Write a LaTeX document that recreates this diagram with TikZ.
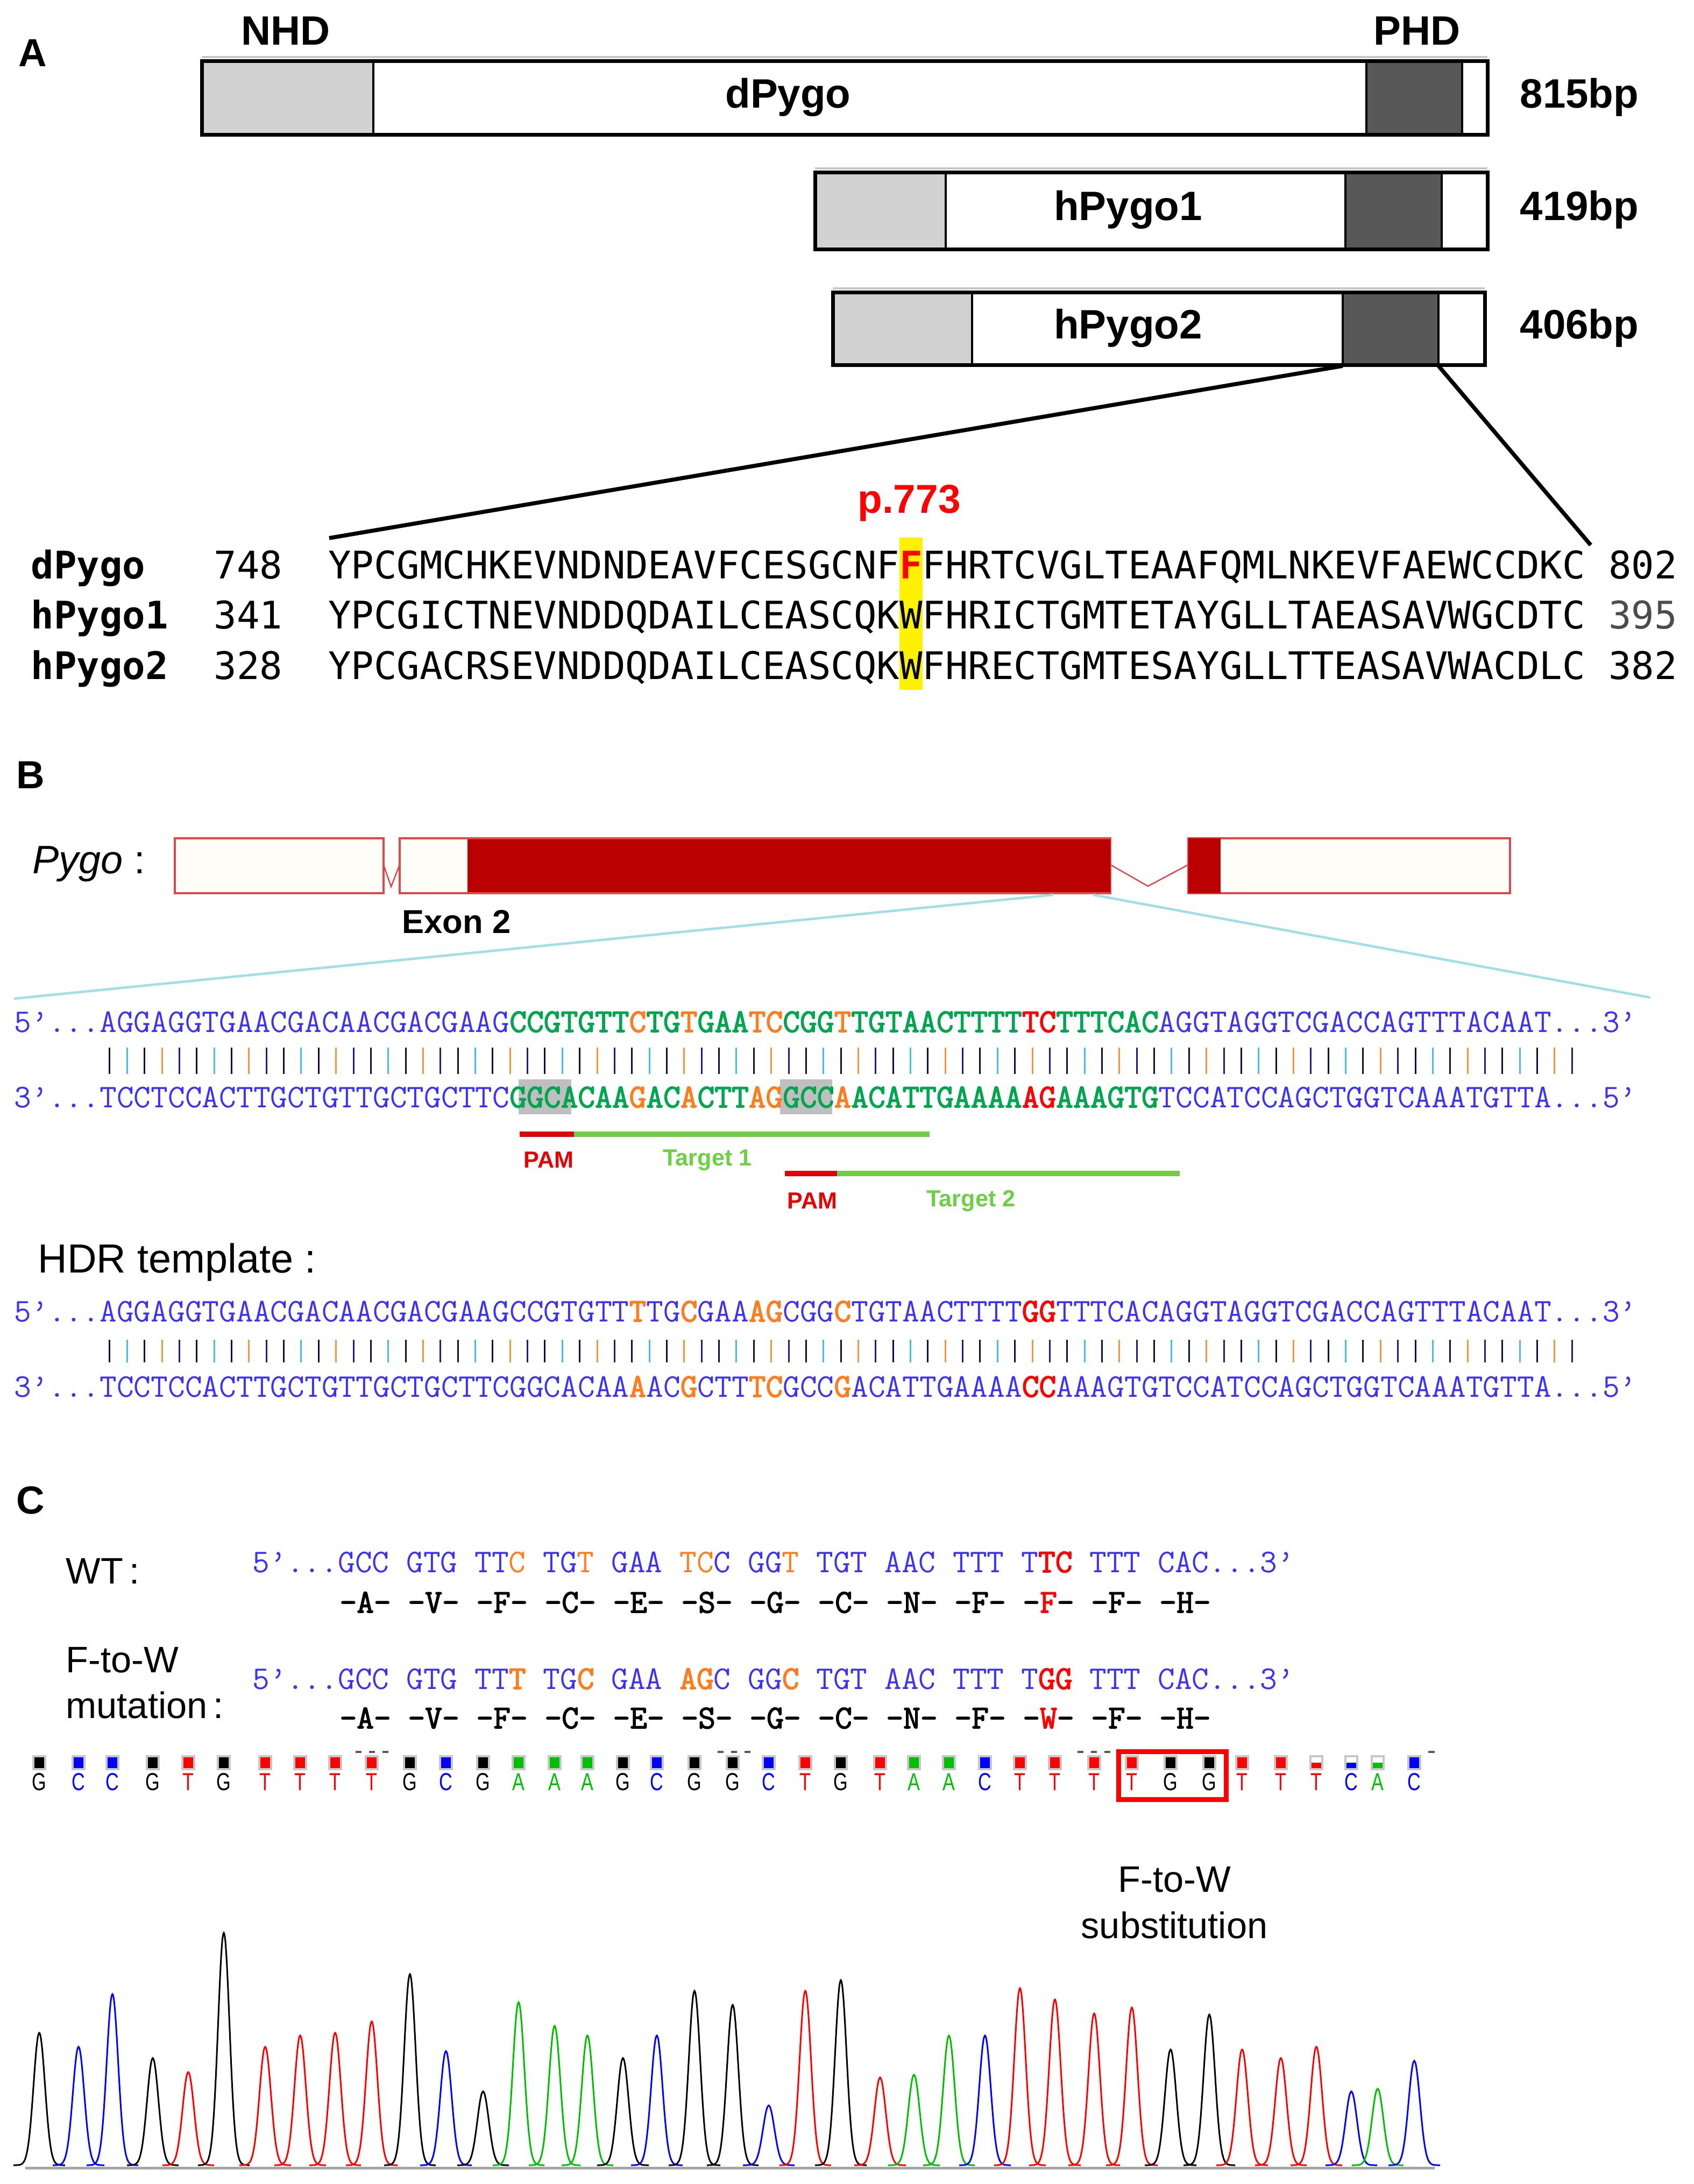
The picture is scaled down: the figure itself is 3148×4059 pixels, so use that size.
\documentclass[tikz,border=0pt]{standalone}
\usepackage{fontspec}
\usepackage{graphicx}
\setmainfont{Liberation Sans}
\newfontfamily\monoA{DejaVu Sans Mono}
\newfontfamily\cour{Latin Modern Mono}[AutoFakeBold=2.5]
\definecolor{lgray}{RGB}{210,210,210}
\definecolor{dgray}{RGB}{88,88,88}
\definecolor{exred}{RGB}{187,0,0}
\definecolor{exline}{RGB}{222,72,72}
\definecolor{ivory}{RGB}{255,253,247}
\definecolor{cyanl}{RGB}{160,222,232}
\definecolor{sblue}{RGB}{60,50,245}
\definecolor{sgreen}{RGB}{0,165,80}
\definecolor{sorange}{RGB}{255,125,30}
\definecolor{sred}{RGB}{255,0,0}
\definecolor{pamred}{RGB}{228,0,0}
\definecolor{tgreen}{RGB}{108,207,68}
\definecolor{trG}{RGB}{0,0,0}
\definecolor{trC}{RGB}{0,0,255}
\definecolor{trT}{RGB}{255,0,0}
\definecolor{trA}{RGB}{0,190,0}
\definecolor{barA}{RGB}{15,15,60}
\definecolor{barB}{RGB}{240,150,60}
\definecolor{barC}{RGB}{70,190,225}
\definecolor{barD}{RGB}{30,30,130}
\newcommand\nuB[1]{\textcolor{sblue}{#1}}
\newcommand\nuG[1]{\textcolor{sgreen}{\bfseries #1}}
\newcommand\nuO[1]{\textcolor{sorange}{\bfseries #1}}
\newcommand\nuOn[1]{\textcolor{sorange}{#1}}
\newcommand\nuR[1]{\textcolor{sred}{\bfseries #1}}
\newcommand\pygobar[7]{%
  \fill[white] (#1,#3) rectangle (#2,#4);
  \fill[lgray] (#1,#3) rectangle (#5,#4);
  \fill[dgray] (#6,#3) rectangle (#7,#4);
  \draw[line width=0.4mm] (#5,#3) -- (#5,#4) (#6,#3) -- (#6,#4) (#7,#3) -- (#7,#4);
  \draw[gray!45, line width=0.4mm] (#1,#3-7) -- (#2,#3-7);
  \draw[line width=0.7mm] (#1,#3) rectangle (#2,#4);
}
\newcommand\pairbars[2]{%
  \foreach \i in {5,...,89}{%
    \pgfmathtruncatemacro\m{mod(\i*7,5)}%
    \ifcase\m \def\bc{barA}\or \def\bc{barB}\or \def\bc{barC}\or \def\bc{barD}\or \def\bc{barA}\fi
    \draw[\bc, line width=0.3mm] (26+\i*32.36+16.18,#1) -- (26+\i*32.36+16.18,#2);
  }%
}
\tikzset{
  lab/.style={font=\fontsize{20.7pt}{24pt}\selectfont\bfseries, inner sep=0pt},
  barlab/.style={font=\fontsize{21.7pt}{26pt}\selectfont\bfseries, inner sep=0pt},
  alnA/.style={font=\monoA\fontsize{20.08pt}{24pt}\selectfont, inner sep=0pt, anchor=base west},
  dna/.style={font=\cour\fontsize{17.54pt}{21pt}\selectfont, inner sep=0pt, anchor=base west},
  dnab/.style={font=\cour\fontsize{17.54pt}{21pt}\selectfont\bfseries, inner sep=0pt, anchor=base west},
  plain/.style={font=\fontsize{19.5pt}{23pt}\selectfont, inner sep=0pt},
  pamlab/.style={font=\fontsize{12.3pt}{14pt}\selectfont\bfseries, inner sep=0pt},
  callab/.style={font=\fontsize{13pt}{15pt}\selectfont, inner sep=0pt},
  gene/.style={draw=exline, line width=0.35mm, fill=ivory},
  zoomline/.style={line width=0.75mm, black},
}
\begin{document}
\begin{tikzpicture}[x=0.1mm,y=-0.1mm]
\useasboundingbox (0,0) rectangle (3148,4059);
\fill[white] (0,0) rectangle (3148,4059);

% ---------------- Panel A ----------------
\node[lab] (labA) at (61,98) {A};
\node[barlab] (nhd) at (531,57) {NHD};
\node[barlab] (phd) at (2634,57) {PHD};
\pygobar{375}{2765}{113}{250}{694}{2540}{2718}
\node[barlab] (tdp) at (1465,181) {dPygo};
\node[barlab, anchor=west] (bp1) at (2825,181) {815bp};
\pygobar{1515}{2765}{320}{463}{1758}{2501}{2680}
\node[barlab] (th1) at (2097,390) {hPygo1};
\node[barlab, anchor=west] (bp2) at (2825,390) {419bp};
\pygobar{1548}{2760}{543}{678}{1807}{2496}{2674}
\node[barlab] (th2) at (2097,610) {hPygo2};
\node[barlab, anchor=west] (bp3) at (2825,610) {406bp};

\coordinate (p2l) at (2496,680);
\coordinate (p2r) at (2674,680);
\coordinate (al) at (612,1000);
\coordinate (ar) at (2957,1013);
\draw[zoomline] (p2l) -- (al);
\draw[zoomline] (p2r) -- (ar);

\fill[yellow] (1672,999) rectangle (1714.5,1282);
\node[font=\fontsize{21.3pt}{25pt}\selectfont\bfseries, text=red, inner sep=0pt, anchor=base] (p773) at (1690,953) {p.773};

\node[alnA] (nm1) at (57,1075) {\bfseries dPygo};
\node[alnA] (st1) at (397,1075) {748};
\node[alnA] (sq1) at (609.5,1075) {YPCGMCHKEVNDNDEAVFCESGCNF\textcolor{red}{\bfseries F}FHRTCVGLTEAAFQMLNKEVFAEWCCDKC};
\node[alnA] (en1) at (2989.5,1075) {802};
\node[alnA] (nm2) at (57,1168) {\bfseries hPygo1};
\node[alnA] (st2) at (397,1168) {341};
\node[alnA] (sq2) at (609.5,1168) {YPCGICTNEVNDDQDAILCEASCQKWFHRICTGMTETAYGLLTAEASAVWGCDTC};
\node[alnA, text=black!70] (en2) at (2989.5,1168) {395};
\node[alnA] (nm3) at (57,1262) {\bfseries hPygo2};
\node[alnA] (st3) at (397,1262) {328};
\node[alnA] (sq3) at (609.5,1262) {YPCGACRSEVNDDQDAILCEASCQKWFHRECTGMTESAYGLLTTEASAVWACDLC};
\node[alnA] (en3) at (2989.5,1262) {382};

% ---------------- Panel B ----------------
\node[lab] (labB) at (57,1440) {B};
\node[font=\fontsize{21pt}{25pt}\selectfont, inner sep=0pt, anchor=west] (pygo) at (60,1606) {\itshape Pygo\upshape{} :};
\draw[gene] (325,1558) rectangle (713,1660);
\draw[gene] (743,1558) rectangle (2064,1660);
\fill[exred] (869,1558) rectangle (2064,1660);
\draw[exline, line width=0.45mm] (325,1558) -- (713,1558) (325,1660) -- (713,1660) (743,1558) -- (2064,1558) (743,1660) -- (2064,1660) (2209,1558) -- (2807,1558) (2209,1660) -- (2807,1660);
\draw[gene] (2209,1558) rectangle (2807,1660);
\fill[exred] (2209,1558) rectangle (2269,1660);
\draw[exline, line width=0.25mm] (713,1607) -- (727,1648) -- (743,1607);
\draw[exline, line width=0.25mm] (2064,1607) -- (2134,1647) -- (2209,1607);
\node[font=\fontsize{17.5pt}{21pt}\selectfont\bfseries, inner sep=0pt, anchor=west] (exon) at (747,1713) {Exon 2};

\coordinate (zl) at (1958,1663);
\coordinate (zr) at (2032,1663);
\coordinate (sl) at (26,1856);
\coordinate (sr) at (3068,1854);
\draw[cyanl, line width=0.45mm] (zl) -- (sl);
\draw[cyanl, line width=0.45mm] (zr) -- (sr);

\fill[black!25] (964.4,2006) rectangle (1061.5,2071);
\fill[black!25] (1449.8,2006) rectangle (1546.9,2071);
\node[dna] (btop) at (26,1918) {\nuB{5’...AGGAGGTGAACGACAACGACGAAG}\nuG{CCGTGTT}\nuO{C}\nuG{TG}\nuO{T}\nuG{GAA}\nuO{TC}\nuG{CGG}\nuO{T}\nuG{TGTAACTTTT}\nuR{TC}\nuG{TTTCAC}\nuB{AGGTAGGTCGACCAGTTTACAAT...3’}};
\pairbars{1947}{1996}
\node[dna] (bbot) at (26,2058) {\nuB{3’...TCCTCCACTTGCTGTTGCTGCTTC}\nuG{GGCACAA}\nuO{G}\nuG{AC}\nuO{A}\nuG{CTT}\nuO{AG}\nuG{GCC}\nuO{A}\nuG{ACATTGAAAA}\nuR{AG}\nuG{AAAGTG}\nuB{TCCATCCAGCTGGTCAAATGTTA...5’}};

\draw[pamred, line width=1mm] (966,2108) -- (1067,2108);
\draw[tgreen, line width=1mm] (1067,2108) -- (1728,2108);
\draw[pamred, line width=1mm] (1459,2181) -- (1556,2181);
\draw[tgreen, line width=1mm] (1556,2181) -- (2193,2181);
\node[pamlab, text=pamred] (pam1) at (1020,2156) {PAM};
\node[pamlab, text=tgreen] (tg1) at (1315,2156) {Target 1};
\node[pamlab, text=pamred] (pam2) at (1510,2232) {PAM};
\node[pamlab, text=tgreen] (tg2) at (1805,2232) {Target 2};

\node[font=\fontsize{21.5pt}{25pt}\selectfont, inner sep=0pt, anchor=west] (hdr) at (70,2346) {HDR template :};
\node[dna] (htop) at (26,2456) {\nuB{5’...AGGAGGTGAACGACAACGACGAAGCCGTGTT}\nuO{T}\nuB{TG}\nuO{C}\nuB{GAA}\nuO{AG}\nuB{CGG}\nuO{C}\nuB{TGTAACTTTT}\nuR{GG}\nuB{TTTCACAGGTAGGTCGACCAGTTTACAAT...3’}};
\pairbars{2490}{2532}
\node[dna] (hbot) at (26,2596) {\nuB{3’...TCCTCCACTTGCTGTTGCTGCTTCGGCACAA}\nuO{A}\nuB{AC}\nuO{G}\nuB{CTT}\nuO{TC}\nuB{GCC}\nuO{G}\nuB{ACATTGAAAA}\nuR{CC}\nuB{AAAGTGTCCATCCAGCTGGTCAAATGTTA...5’}};

% ---------------- Panel C ----------------
\node[lab] (labC) at (57,2788) {C};
\node[plain, anchor=base west] (wt) at (122,2943) {WT\,:};
\node[plain, anchor=base west] (ftw) at (122,3108) {F-to-W};
\node[plain, anchor=base west] (mut) at (122,3193) {mutation\,:};

\node[dna] (wtseq) at (469,2922) {\nuB{5’...GCC~GTG~TT}\nuOn{C}\nuB{~TG}\nuOn{T}\nuB{~GAA~}\nuOn{TC}\nuB{C~GG}\nuOn{T}\nuB{~TGT~AAC~TTT~T}\nuR{TC}\nuB{~TTT~CAC...3’}};
\node[dnab] (wtaa) at (630.8,2997) {-A- -V- -F- -C- -E- -S- -G- -C- -N- -F- -\textcolor{red}{F}- -F- -H-};
\node[dna] (mtseq) at (469,3139) {\nuB{5’...GCC~GTG~TT}\nuO{T}\nuB{~TG}\nuO{C}\nuB{~GAA~}\nuO{AG}\nuB{C~GG}\nuO{C}\nuB{~TGT~AAC~TTT~T}\nuR{GG}\nuB{~TTT~CAC...3’}};
\node[dnab] (mtaa) at (630.8,3212) {-A- -V- -F- -C- -E- -S- -G- -C- -N- -F- -\textcolor{red}{W}- -F- -H-};

% tick dashes
\foreach \d in {661,1334,2003}{
  \draw[black!65, line width=0.35mm] (\d,3256) -- (\d+11,3256) (\d+25,3256) -- (\d+36,3256) (\d+50,3256) -- (\d+61,3256);
}
\draw[black!65, line width=0.35mm] (2655,3256) -- (2667,3256);

% baseline of chromatogram
\draw[black!35, line width=0.5mm] (47,4029) -- (2667,4029);

\foreach \x/\b/\h/\f [count=\i] in {
73/G/246/1,146/C/220/1,209/C/318/1,284/G/199/1,350/T/173/1,416/G/432/1,
493/T/220/1,558/T/241/1,623/T/246/1,691/T/267/1,762/G/355/1,829/C/212/1,
898/G/137/1,964/A/303/1,1031/A/259/1,1092/A/241/1,1158/G/199/1,1221/C/241/1,
1291/G/324/1,1362/G/298/1,1429/C/111/1,1497/T/324/1,1563/G/344/1,1636/T/163/1,
1699/A/168/1,1764/A/241/1,1831/C/241/1,1896/T/329/1,1961/T/308/1,2034/T/282/1,
2104/T/293/1,2176/G/215/1,2248/G/280/1,2309/T/215/1,2381/T/199/1,2447/T/220/0.5,
2512/C/137/0.5,2561/A/142/0.5,2629/C/194/1}{
  \fill[black!22] (\x-13,3262) rectangle (\x+13,3290);
  \fill[white] (\x-9,3266) rectangle (\x+9,3286);
  \fill[tr\b] (\x-9,{3286-20*\f}) rectangle (\x+9,3286);
  \node[callab, text=tr\b] (bc\i) at (\x,3312) {\scalebox{0.75}[1]{\b}};
  \draw[tr\b, line width=0.3mm] plot[variable=\t, domain=\x-48:\x+48, samples=37, smooth] (\t,{4024-\h*exp(-((\t-\x)/15)^2)});
}

\draw[red, line width=0.9mm] (2079,3255) rectangle (2279,3344);

\node[plain] (sub1) at (2183,3493) {F-to-W};
\node[plain] (sub2) at (2183,3578) {substitution};
\end{tikzpicture}
\end{document}
